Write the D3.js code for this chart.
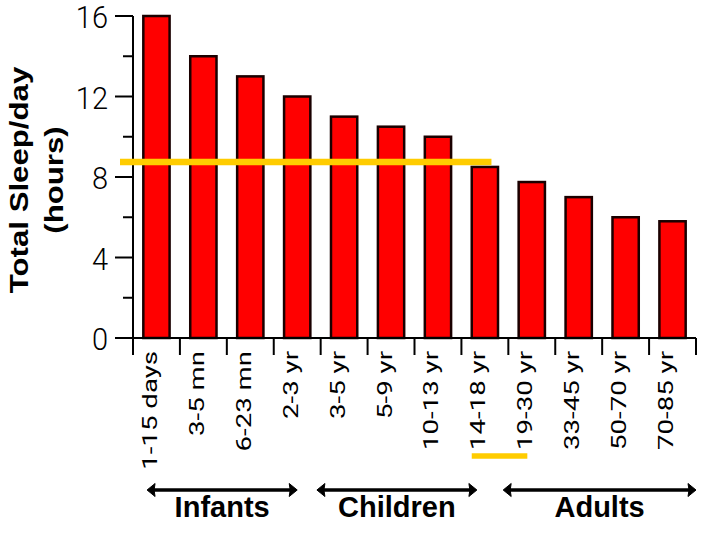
<!DOCTYPE html>
<html>
<head>
<meta charset="utf-8">
<script src="https://cdn.jsdelivr.net/npm/d3@7"></script>
<style>
  body { margin: 0; background: #fff; }
  svg { display: block; }
  .tick-label { font-family: Roboto, "Liberation Sans", sans-serif; font-weight: 300; fill: #000; }
  .x-label { font-weight: 400; }
  .title { font-family: "Liberation Sans", Arial, sans-serif; font-weight: bold; fill: #000; }
</style>
</head>
<body>
<div id="chart"></div>
<script>
// categories and values
const categories = ["1-15 days", "3-5 mn", "6-23 mn", "2-3 yr", "3-5 yr", "5-9 yr",
  "10-13 yr", "14-18 yr", "19-30 yr", "33-45 yr", "50-70 yr", "70-85 yr"];
const sleepHours = [16, 14, 13, 12, 11, 10.5, 10, 8.5, 7.75, 7, 6, 5.8];
const yTickValues = [0, 4, 8, 12, 16];
const yMinorTicks = [2, 6, 10, 14];
const referenceHours = 8.75;

// age groups, in band units along the x axis
const groupNames = ["Infants", "Children", "Adults"];
const groupStart = [0.3, 3.92, 7.89];
const groupEnd = [3.5, 7.33, 12];

class SleepChart {
  constructor(_config) {
    this.config = {
      parentElement: _config.parentElement,
      containerWidth: _config.containerWidth || 720,
      containerHeight: _config.containerHeight || 540,
      margin: _config.margin || { top: 16, right: 24, bottom: 202, left: 133 },
    };
    this.initVis();
  }

  initVis() {
    let vis = this;

    vis.width = vis.config.containerWidth - vis.config.margin.left - vis.config.margin.right;
    vis.height = vis.config.containerHeight - vis.config.margin.top - vis.config.margin.bottom;

    vis.svg = d3.select(vis.config.parentElement)
      .append("svg")
      .attr("width", vis.config.containerWidth)
      .attr("height", vis.config.containerHeight);

    vis.chart = vis.svg.append("g")
      .attr("transform", `translate(${vis.config.margin.left},${vis.config.margin.top})`);

    vis.xScale = d3.scaleBand()
      .domain(categories)
      .range([0, vis.width])
      .paddingInner(0.44)
      .paddingOuter(0.22);

    vis.yScale = d3.scaleLinear()
      .domain([0, 16])
      .range([vis.height, 0]);

    // y axis title, two rotated lines
    vis.svg.append("text")
      .attr("class", "title")
      .attr("transform", "translate(28,180) rotate(-90) scale(1.2,1)")
      .attr("text-anchor", "middle")
      .style("font-size", "26px")
      .text("Total Sleep/day");
    vis.svg.append("text")
      .attr("class", "title")
      .attr("transform", "translate(63,180) rotate(-90) scale(1.2,1)")
      .attr("text-anchor", "middle")
      .style("font-size", "26px")
      .text("(hours)");

    vis.renderVis();
  }

  renderVis() {
    let vis = this;
    const step = vis.xScale.step();
    const bw = vis.xScale.bandwidth();

    // bars
    vis.chart.selectAll(".bar")
      .data(sleepHours)
      .join("rect")
      .attr("class", "bar")
      .attr("x", (d, i) => vis.xScale(categories[i]))
      .attr("y", d => vis.yScale(d))
      .attr("width", bw)
      .attr("height", d => vis.height - vis.yScale(d))
      .attr("fill", "#ff0000")
      .attr("stroke", "#1a0000")
      .attr("stroke-width", 2.5);

    // y axis
    vis.chart.append("line")
      .attr("x1", 0).attr("x2", 0)
      .attr("y1", vis.yScale(16)).attr("y2", vis.height)
      .attr("stroke", "#000").attr("stroke-width", 2);
    vis.chart.selectAll(".y-major")
      .data(yTickValues)
      .join("line")
      .attr("class", "y-major")
      .attr("x1", -18).attr("x2", 0)
      .attr("y1", d => vis.yScale(d)).attr("y2", d => vis.yScale(d))
      .attr("stroke", "#000").attr("stroke-width", 2);
    vis.chart.selectAll(".y-minor")
      .data(yMinorTicks)
      .join("line")
      .attr("class", "y-minor")
      .attr("x1", -10).attr("x2", 0)
      .attr("y1", d => vis.yScale(d)).attr("y2", d => vis.yScale(d))
      .attr("stroke", "#000").attr("stroke-width", 2);
    vis.chart.selectAll(".y-label")
      .data(yTickValues)
      .join("text")
      .attr("class", "tick-label y-label")
      .attr("transform", d => `translate(-25,${vis.yScale(d) + 1}) scale(1,1.1)`)
      .attr("text-anchor", "end")
      .attr("dy", "0.36em")
      .style("font-size", "29px")
      .text(d => d);

    // x axis with ticks between the bands
    vis.chart.append("line")
      .attr("x1", 0).attr("x2", vis.width)
      .attr("y1", vis.height).attr("y2", vis.height)
      .attr("stroke", "#000").attr("stroke-width", 2);
    vis.chart.selectAll(".x-tick")
      .data(d3.range(categories.length + 1))
      .join("line")
      .attr("class", "x-tick")
      .attr("x1", i => i * step).attr("x2", i => i * step)
      .attr("y1", vis.height).attr("y2", vis.height + 17)
      .attr("stroke", "#000").attr("stroke-width", 2);
    vis.chart.selectAll(".x-label")
      .data(categories)
      .join("text")
      .attr("class", "tick-label x-label")
      .attr("transform", d => `translate(${vis.xScale(d) + bw / 2 + 0.5},${vis.height + 13}) rotate(-90) scale(1.38,1)`)
      .attr("text-anchor", "end")
      .style("font-size", "20px")
      .text(d => d);

    // yellow reference line across the chart, ending on the 14-18 yr bar
    vis.chart.append("line")
      .attr("x1", -13)
      .attr("x2", vis.xScale("14-18 yr") + bw * 0.75)
      .attr("y1", vis.yScale(referenceHours)).attr("y2", vis.yScale(referenceHours))
      .attr("stroke", "#ffcc00").attr("stroke-width", 6.5);
    // yellow underline below the 14-18 yr label
    vis.chart.append("line")
      .attr("x1", vis.xScale("14-18 yr"))
      .attr("x2", vis.xScale("19-30 yr") + bw * 0.33)
      .attr("y1", vis.height + 118).attr("y2", vis.height + 118)
      .attr("stroke", "#ffcc00").attr("stroke-width", 5.5);

    // age group arrows and labels
    const groups = vis.chart.selectAll(".group")
      .data(groupNames)
      .join("g")
      .attr("class", "group");
    const arrowY = vis.height + 152;
    groups.append("line")
      .attr("x1", (d, i) => groupStart[i] * step + 4)
      .attr("x2", (d, i) => groupEnd[i] * step - 4)
      .attr("y1", arrowY).attr("y2", arrowY)
      .attr("stroke", "#000").attr("stroke-width", 3.3);
    groups.append("path")
      .attr("d", (d, i) => {
        const a = groupStart[i] * step, b = groupEnd[i] * step;
        return `M${a},${arrowY}L${a + 8},${arrowY - 6.5}L${a + 7},${arrowY}L${a + 8},${arrowY + 6.5}Z` +
          `M${b},${arrowY}L${b - 8},${arrowY - 6.5}L${b - 7},${arrowY}L${b - 8},${arrowY + 6.5}Z`;
      })
      .attr("fill", "#000")
      .attr("stroke", "#000")
      .attr("stroke-width", 1);
    groups.append("text")
      .attr("class", "title")
      .attr("x", (d, i) => (groupStart[i] + groupEnd[i]) / 2 * step)
      .attr("y", vis.height + 179)
      .attr("text-anchor", "middle")
      .style("font-size", "29px")
      .text(d => d);
  }
}

const chart = new SleepChart({ parentElement: "#chart" });
</script>
</body>
</html>
